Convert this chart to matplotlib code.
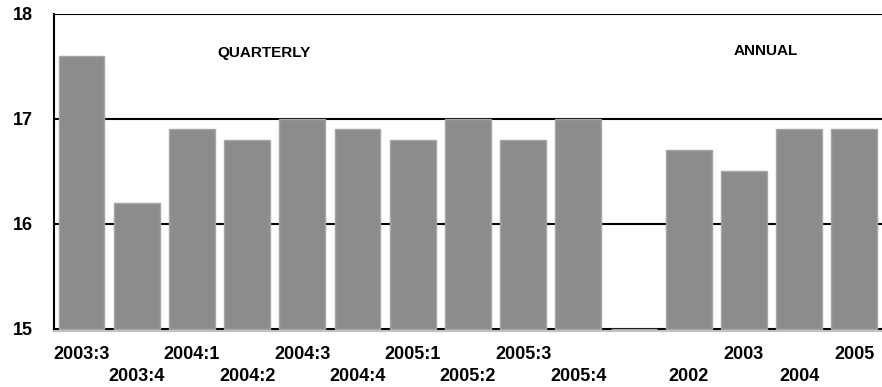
import matplotlib.pyplot as plt
import numpy as np

plt.rcParams['font.family'] = ['Liberation Sans', 'DejaVu Sans']
plt.rcParams['font.weight'] = 'bold'

quarters = ['2003:3', '2003:4', '2004:1', '2004:2', '2004:3',
            '2004:4', '2005:1', '2005:2', '2005:3', '2005:4']
quarterly = [17.6, 16.2, 16.9, 16.8, 17.0, 16.9, 16.8, 17.0, 16.8, 17.0]
years = ['2002', '2003', '2004', '2005']
annual = [16.7, 16.5, 16.9, 16.9]

# one empty slot between the quarterly and annual groups
labels = quarters + [''] + years
values = quarterly + [np.nan] + annual
x = np.arange(len(labels))

fig = plt.figure(figsize=(8.82, 3.87), dpi=100)
ax = fig.add_axes([0.0612, 0.145, 0.9388, 0.819])

for y in [15, 16, 17, 18]:
    ax.axhline(y, color='black', lw=1.5, zorder=1)

base = 15
heights = [v - base if not np.isnan(v) else 0 for v in values]
ax.bar(x, heights, bottom=base, width=0.83, color='#8c8c8c',
       edgecolor='#a6a6a6', linewidth=1.0, zorder=2)

ax.set_xlim(-0.5, len(labels) - 0.5)
ax.set_ylim(14.98, 18)
ax.set_yticks([15, 16, 17, 18])
ax.set_yticklabels(['15', '16', '17', '18'], fontsize=13, fontweight='bold')
ax.tick_params(axis='y', length=0, pad=15)
for t in ax.get_yticklabels():
    t.set_verticalalignment('center_baseline')
ax.set_xticks([])

# staggered category labels
for i, lab in enumerate(labels):
    if not lab:
        continue
    yoff = -0.075 if i % 2 == 0 else -0.143
    ax.text(i, yoff, lab, transform=ax.get_xaxis_transform(), ha='center',
            va='center', fontsize=13, fontweight='bold', clip_on=False)

ax.text(3.3, 17.63, 'QUARTERLY', ha='center', va='center', fontsize=11, fontweight='bold')
ax.text(12.4, 17.65, 'ANNUAL', ha='center', va='center', fontsize=11, fontweight='bold')

for s in ['top', 'right']:
    ax.spines[s].set_visible(False)
ax.spines['left'].set_color('black')
ax.spines['left'].set_linewidth(1.5)
ax.spines['bottom'].set_color('#c0c0c0')
ax.spines['bottom'].set_linewidth(1.5)

fig.savefig('out.png', dpi=100)
